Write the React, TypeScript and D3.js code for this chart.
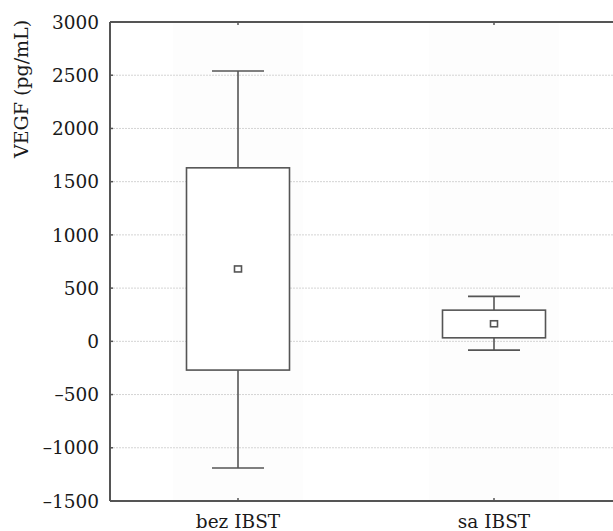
import React from "react";
import * as d3 from "d3";

const categories = ["bez IBST", "sa IBST"];
const whiskerLow = [-1190, -83];
const boxLow = [-270, 33];
const meanValues = [680, 165];
const boxHigh = [1630, 293];
const whiskerHigh = [2540, 422];
const yTicks = [-1500, -1000, -500, 0, 500, 1000, 1500, 2000, 2500, 3000];

const W = 613;
const H = 531;
const left = 110;
const top = 22;
const bottom = 501;
const right = 622;

export default function App() {
  const y = d3.scaleLinear().domain([-1500, 3000]).range([bottom, top]);
  const x = d3.scalePoint<string>().domain(categories).range([left, right]).padding(0.5);
  const boxW = 103;
  const capW = 52;
  const font = "'DejaVu Serif', serif";
  const stroke = "#555";
  const fmt = (v: number) => (v < 0 ? "\u2013" + Math.abs(v) : String(v));
  return (
    <svg width={W} height={H} style={{ position: "absolute", left: 0, top: 0, background: "#fff" }}>
      {/* faint bands */}
      {categories.map((c) => (
        <rect key={"band" + c} x={(x(c) as number) - 65} y={top} width={130} height={bottom - top} fill="#fdfdfd" />
      ))}
      {/* gridlines */}
      {yTicks.filter((t) => t !== 3000 && t !== -1500).map((t) => (
        <line key={"g" + t} x1={left} x2={W} y1={y(t)} y2={y(t)} stroke="#d4d4d4" strokeWidth={1} strokeDasharray="2,1" />
      ))}
      {/* boxes */}
      {categories.map((c, i) => {
        const cx = x(c) as number;
        return (
          <g key={c} stroke={stroke} strokeWidth={1.6} fill="none">
            <line x1={cx} x2={cx} y1={y(whiskerHigh[i])} y2={y(boxHigh[i])} />
            <line x1={cx} x2={cx} y1={y(boxLow[i])} y2={y(whiskerLow[i])} />
            <line x1={cx - capW / 2} x2={cx + capW / 2} y1={y(whiskerHigh[i])} y2={y(whiskerHigh[i])} />
            <line x1={cx - capW / 2} x2={cx + capW / 2} y1={y(whiskerLow[i])} y2={y(whiskerLow[i])} />
            <rect x={cx - boxW / 2} y={y(boxHigh[i])} width={boxW} height={y(boxLow[i]) - y(boxHigh[i])} fill="#fff" />
            <rect x={cx - 3.5} y={y(meanValues[i]) - 3} width={7} height={6} fill="#fff" />
          </g>
        );
      })}
      {/* axes */}
      <line x1={left} x2={W} y1={top} y2={top} stroke={stroke} strokeWidth={2} />
      <line x1={left} x2={W} y1={bottom} y2={bottom} stroke={stroke} strokeWidth={2} />
      <line x1={left} x2={left} y1={top} y2={bottom} stroke={stroke} strokeWidth={2} />
      {categories.map((c) => (
        <g key={"t" + c}>
          <line x1={x(c) as number} x2={x(c) as number} y1={bottom} y2={bottom - 3} stroke={stroke} strokeWidth={1.5} />
          <line x1={x(c) as number} x2={x(c) as number} y1={top} y2={top + 3} stroke={stroke} strokeWidth={1.5} />
          <text x={x(c) as number} y={528} textAnchor="middle" fontFamily={font} fontSize={18.5} fill="#1a1a1a">
            {c}
          </text>
        </g>
      ))}
      {yTicks.map((t) => (
        <g key={"yt" + t}>
          <line x1={left} x2={left + 3} y1={y(t)} y2={y(t)} stroke={stroke} strokeWidth={1.5} />
          <text x={99} y={y(t) + 6.7} textAnchor="end" fontFamily={font} fontSize={18.5} fill="#1a1a1a">
            {fmt(t)}
          </text>
        </g>
      ))}
      <text transform={`translate(28,89) rotate(-90)`} textAnchor="middle" fontFamily={font} fontSize={19} fill="#1a1a1a">
        VEGF (pg/mL)
      </text>
    </svg>
  );
}
